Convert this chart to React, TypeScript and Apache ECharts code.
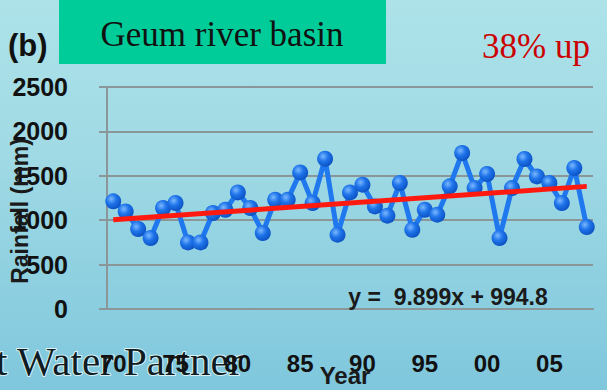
import React, { useEffect, useRef } from "react";
import * as echarts from "echarts";

const years = [
  "1970", "1971", "1972", "1973", "1974", "1975", "1976", "1977", "1978", "1979",
  "1980", "1981", "1982", "1983", "1984", "1985", "1986", "1987", "1988", "1989",
  "1990", "1991", "1992", "1993", "1994", "1995", "1996", "1997", "1998", "1999",
  "2000", "2001", "2002", "2003", "2004", "2005", "2006", "2007", "2008",
];

const rainfall = [
  1212, 1099, 901, 800, 1137, 1194, 750, 750, 1081, 1118,
  1313, 1137, 856, 1231, 1231, 1538, 1194, 1692, 837, 1313,
  1400, 1155, 1051, 1419, 893, 1118, 1062, 1381, 1757, 1362,
  1520, 800, 1362, 1689, 1493, 1419, 1194, 1588, 923,
];

const trendSlope = 9.899;
const trendIntercept = 994.8;
const trendStart = trendIntercept + trendSlope * 1;
const trendEnd = trendIntercept + trendSlope * years.length;

const yTicks = [0, 500, 1000, 1500, 2000, 2500];

export default function App() {
  const ref = useRef<HTMLDivElement>(null);

  useEffect(() => {
    if (!ref.current) return;
    const chart = echarts.init(ref.current, null, { renderer: "svg" });
    const gray = "#8a9698";
    chart.setOption({
      animation: false,
      backgroundColor: "transparent",
      grid: {
        left: 107,
        right: 14,
        top: 87,
        bottom: 81,
        containLabel: false,
        outerBoundsMode: "none",
      },
      xAxis: {
        type: "category",
        data: years,
        boundaryGap: true,
        axisLine: { show: true, lineStyle: { color: gray, width: 2 } },
        axisTick: { show: false },
        splitLine: { show: false },
        axisLabel: {
          interval: 4,
          formatter: (v: string) => v.slice(2),
          color: "#111",
          fontFamily: "Liberation Sans",
          fontWeight: "bold",
          fontSize: 24,
          margin: 42,
        },
      },
      yAxis: {
        type: "value",
        min: yTicks[0],
        max: yTicks[yTicks.length - 1],
        interval: 500,
        axisLine: { show: true, lineStyle: { color: gray, width: 2 } },
        axisTick: { show: true, length: 8, lineStyle: { color: gray, width: 2 } },
        splitLine: { show: true, lineStyle: { color: gray, width: 2 } },
        axisLabel: {
          formatter: (v: number) => String(v),
          color: "#111",
          fontFamily: "Liberation Sans",
          fontWeight: "bold",
          fontSize: 25,
          margin: 39,
        },
      },
      series: [
        {
          type: "line",
          data: rainfall,
          symbol: "circle",
          symbolSize: 16,
          showAllSymbol: true,
          lineStyle: { color: "#1f78ee", width: 5 },
          itemStyle: {
            color: new echarts.graphic.RadialGradient(0.38, 0.35, 0.7, [
              { offset: 0, color: "#7ab8ff" },
              { offset: 0.45, color: "#1f74ea" },
              { offset: 1, color: "#0a4fc0" },
            ]),
          },
          z: 3,
        },
        {
          type: "line",
          data: [
            [0, trendStart],
            [years.length - 1, trendEnd],
          ],
          symbol: "none",
          lineStyle: { color: "#ff1a10", width: 5 },
          z: 4,
        },
      ],
      graphic: [
        {
          type: "text",
          left: -5,
          top: 339,
          z: 0,
          style: {
            text: "t Water Partner",
            font: "41px 'Liberation Serif'",
            fill: "#0f1c24",
            stroke: "#d8f2f6",
            lineWidth: 2,
          },
        },
        {
          type: "text",
          x: 20,
          y: 211,
          rotation: Math.PI / 2,
          z: 11,
          style: {
            text: "Rainfall (mm)",
            font: "bold 23px 'Liberation Sans'",
            fill: "#1a1a1a",
            textAlign: "center",
            textVerticalAlign: "middle",
          },
        },
        {
          type: "rect",
          shape: { x: 59, y: 0, width: 327, height: 64 },
          style: { fill: "#00cc99" },
          z: 10,
        },
        {
          type: "text",
          x: 222,
          y: 34,
          z: 11,
          style: {
            text: "Geum river basin",
            font: "35px 'Liberation Serif'",
            fill: "#111",
            textAlign: "center",
            textVerticalAlign: "middle",
          },
        },
        {
          type: "text",
          x: 8,
          y: 45,
          z: 11,
          style: {
            text: "(b)",
            font: "bold 31px 'Liberation Sans'",
            fill: "#111",
            textVerticalAlign: "middle",
          },
        },
        {
          type: "text",
          x: 590,
          y: 46,
          z: 11,
          style: {
            text: "38% up",
            font: "35px 'Liberation Serif'",
            fill: "#cc0000",
            textAlign: "right",
            textVerticalAlign: "middle",
          },
        },
        {
          type: "text",
          x: 448,
          y: 297,
          z: 11,
          style: {
            text: "y =  9.899x + 994.8",
            font: "bold 23px 'Liberation Sans'",
            fill: "#1a1a1a",
            textAlign: "center",
            textVerticalAlign: "middle",
          },
        },
        {
          type: "text",
          x: 345,
          y: 375,
          z: 11,
          style: {
            text: "Year",
            font: "bold 24px 'Liberation Sans'",
            fill: "#1a1a1a",
            textAlign: "center",
            textVerticalAlign: "middle",
          },
        },
      ],
    });
    return () => chart.dispose();
  }, []);

  return (
    <div
      ref={ref}
      style={{
        position: "fixed",
        left: 0,
        top: 0,
        width: 607,
        height: 390,
        background:
          "linear-gradient(180deg, #ade2e9 0%, #a2dbe5 35%, #92d2e1 65%, #7fc7dd 100%)",
      }}
    />
  );
}
